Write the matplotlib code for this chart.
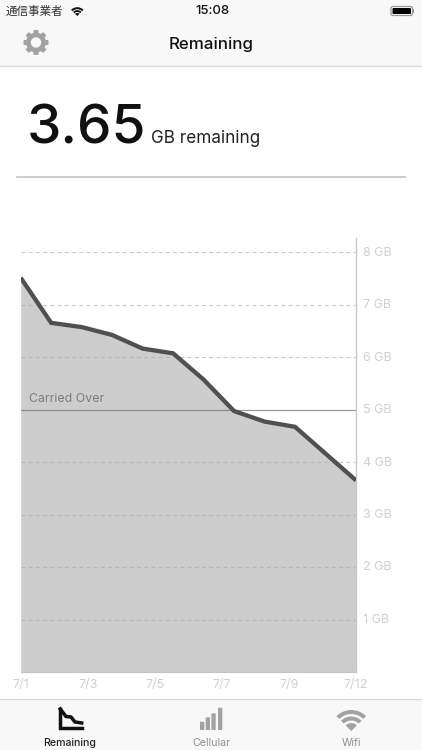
import numpy as np
import matplotlib
matplotlib.use("Agg")
import matplotlib.pyplot as plt
from matplotlib.patches import Rectangle, Wedge, Polygon, FancyBboxPatch, Circle
from matplotlib.transforms import ScaledTranslation

plt.rcParams['font.family'] = ['Inter', 'Noto Sans CJK JP', 'DejaVu Sans']

days = list(range(12))
remaining = [7.51, 6.65, 6.57, 6.42, 6.16, 6.07, 5.57, 4.97, 4.77, 4.67, 4.16, 3.65]
y_ticks = [1, 2, 3, 4, 5, 6, 7, 8]
y_labels = ["1 GB", "2 GB", "3 GB", "4 GB", "5 GB", "6 GB", "7 GB", "8 GB"]
x_tick_labels = ["7/1", "7/3", "7/5", "7/7", "7/9", "7/12"]
carried_over = 5

W, H = 422, 750
fig = plt.figure(figsize=(W / 100, H / 100), dpi=100, facecolor="white")

# screen chrome in pixel coordinates
bg = fig.add_axes([0, 0, 1, 1])
bg.set_xlim(0, W); bg.set_ylim(H, 0); bg.axis("off")
bg.add_patch(Rectangle((0, 0), W, 66, fc="#f8f8f8", ec="none"))
bg.plot([0, W], [65.5, 65.5], color="#dcdcdc", lw=1)
bg.add_patch(Rectangle((0, 699), W, 51, fc="#f8f8f8", ec="none"))
bg.plot([0, W], [699, 699], color="#dcdcdc", lw=1)
bg.plot([17, 405], [177, 177], color="#c8c8c8", lw=1.3)

bg.text(6, 11.5, "通信事業者", fontsize=8.3, color="#333333", va="center", family=['Noto Sans CJK JP'])
bg.text(212.5, 11, "15:08", fontsize=9.5, color="#111111", va="center", ha="center", weight="medium")
bg.text(211, 44, "Remaining", fontsize=12.2, color="#111111", va="center", ha="center", weight="medium")
bg.text(27, 130, "3.65", fontsize=39.5, color="#111111", va="center", ha="left", weight="medium")
bg.text(151, 138.5, "GB remaining", fontsize=12.3, color="#222222", va="center", ha="left")

# status wifi
for r, w in [(8.8, 2.0), (5.9, 1.9), (3.1, 3.1)]:
    bg.add_patch(Wedge((77.3, 16), r, 225, 315, width=w, fc="#111111", ec="none"))

# battery
bg.add_patch(FancyBboxPatch((391, 6.5), 21.5, 9, boxstyle="round,pad=0,rounding_size=2", fc="none", ec="#999999", lw=0.9))
bg.add_patch(FancyBboxPatch((392.5, 8), 18.5, 6, boxstyle="round,pad=0,rounding_size=1", fc="#000000", ec="none"))
bg.add_patch(Rectangle((413.2, 9.2), 1, 3.5, fc="#999999", ec="none"))

# gear
cx, cy = 36, 42.5
ang = np.linspace(0, 2 * np.pi, 97)[:-1]
rad = 12.5 - 2.6 * (np.cos(8 * ang) < -0.1)
bg.add_patch(Polygon(np.c_[cx + rad * np.sin(ang), cy + rad * np.cos(ang)], fc="#a2a2a2", ec="none"))
bg.add_patch(Circle((cx, cy), 5.2, fc="#f8f8f8", ec="none"))

# tab bar: Remaining icon
bg.plot([60.3, 60.3, 81.7], [708.5, 728, 728], color="#111111", lw=2.5, solid_joinstyle="miter")
bg.plot([60.3, 66, 71, 75, 81.7], [709, 716.5, 717, 722, 723], color="#111111", lw=2.5)
bg.text(70, 743, "Remaining", fontsize=7.6, color="#222222", ha="center", va="center", weight="medium")
# Cellular icon
for x0, top_y in [(200, 721.7), (205.7, 717.3), (211.4, 713.3), (218, 707.7)]:
    bg.add_patch(FancyBboxPatch((x0, top_y), 4.3, 730 - top_y,
                                boxstyle="round,pad=0,rounding_size=0.8", fc="#a2a2a2", ec="none"))
bg.text(211, 743, "Cellular", fontsize=7.6, color="#8e8e8e", ha="center", va="center")
# Wifi icon
for r, w in [(21, 4), (14.5, 4), (8, 8)]:
    bg.add_patch(Wedge((351.3, 731), r, 225, 315, width=w, fc="#a2a2a2", ec="none"))
bg.text(351, 743, "Wifi", fontsize=7.6, color="#8e8e8e", ha="center", va="center")

# chart
left, right, top, bottom = 20.7, 356, 237.5, 672
ax = fig.add_axes([left / W, 1 - bottom / H, (right - left) / W, (bottom - top) / H])
ax.patch.set_alpha(0)
ax.set_xlim(days[0], days[-1])
ax.set_ylim(0, (bottom - top) / 52.5)
ax.fill_between(days, remaining, 0, color="#cdcdcd", lw=0, zorder=1)
for v in y_ticks:
    if v != carried_over:
        ax.axhline(v, color="#a8a8a8", alpha=0.6, lw=0.8, dashes=(3.5, 3), zorder=2)
ax.axhline(carried_over, color="#777777", alpha=0.75, lw=0.9, zorder=2)
ax.plot(days, remaining, color="#505050", lw=3.1, solid_joinstyle="miter", solid_capstyle="butt", zorder=3)
ax.text(0.28, carried_over + 0.24, "Carried Over", fontsize=8.9, color="#7d7d7d", va="center", ha="left", zorder=4,
        transform=ax.transData + ScaledTranslation(0, -2 / 100, fig.dpi_scale_trans))

for s in ("top", "left"):
    ax.spines[s].set_visible(False)
ax.spines["right"].set_color("#c8c8c8"); ax.spines["right"].set_linewidth(1)
ax.spines["bottom"].set_color("#c4c4c4"); ax.spines["bottom"].set_linewidth(0.8)
ax.yaxis.tick_right()
ax.set_yticks(y_ticks, y_labels)
ax.set_xticks(np.linspace(days[0], days[-1], len(x_tick_labels)), x_tick_labels)
ax.tick_params(axis="both", length=0, colors="#d0d0d0", labelsize=9)
ax.tick_params(axis="y", pad=5)
ax.tick_params(axis="x", pad=5)
shift = ScaledTranslation(0, 1 / 100, fig.dpi_scale_trans)
for lab in ax.get_yticklabels():
    lab.set_transform(lab.get_transform() + shift)

fig.savefig("out.png", dpi=100)
